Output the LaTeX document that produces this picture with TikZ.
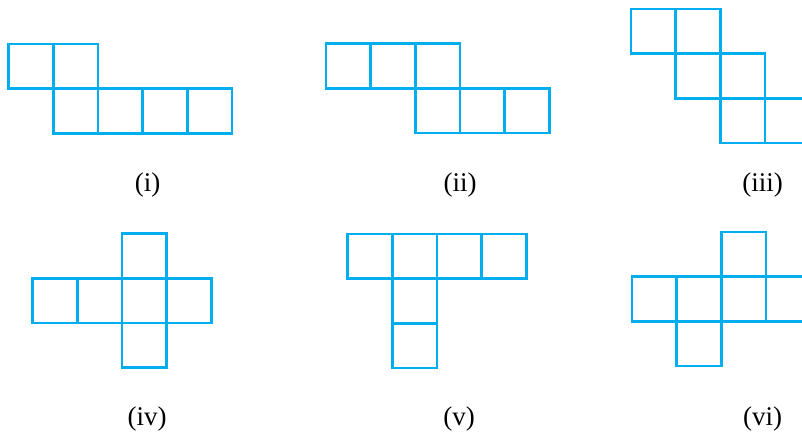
\documentclass[tikz,border=0pt]{standalone}
\usepackage{fontspec}
\setmainfont{Liberation Serif}
\definecolor{netblue}{RGB}{0,174,239}
\newcommand{\sq}[3]{\draw[netcell] ($(#1)+(#2*\s,#3*\s)$) rectangle ++(\s,\s);}
\usetikzlibrary{calc}
\begin{document}
\begin{tikzpicture}[x=1pt,y=-1pt,
  netcell/.style={draw=netblue,line width=2.7pt,line join=miter},
  lab/.style={font=\fontsize{27}{30}\selectfont,inner sep=0pt,anchor=center}]
\def\s{44.7}
\useasboundingbox (0,0) rectangle (802,435);
\fill[white] (0,0) rectangle (802,435);
% origins
\coordinate (o1) at (8.5,44);
\coordinate (o2) at (326,43.5);
\coordinate (o3) at (631,9);
\coordinate (o4) at (32.5,233.5);
\coordinate (o5) at (347.7,234);
\coordinate (o6) at (632,232);
% (i)
\sq{o1}{0}{0}\sq{o1}{1}{0}\sq{o1}{1}{1}\sq{o1}{2}{1}\sq{o1}{3}{1}\sq{o1}{4}{1}
% (ii)
\sq{o2}{0}{0}\sq{o2}{1}{0}\sq{o2}{2}{0}\sq{o2}{2}{1}\sq{o2}{3}{1}\sq{o2}{4}{1}
% (iii)
\sq{o3}{0}{0}\sq{o3}{1}{0}\sq{o3}{1}{1}\sq{o3}{2}{1}\sq{o3}{2}{2}\sq{o3}{3}{2}
% (iv)
\sq{o4}{2}{0}\sq{o4}{0}{1}\sq{o4}{1}{1}\sq{o4}{2}{1}\sq{o4}{3}{1}\sq{o4}{2}{2}
% (v)
\sq{o5}{0}{0}\sq{o5}{1}{0}\sq{o5}{2}{0}\sq{o5}{3}{0}\sq{o5}{1}{1}\sq{o5}{1}{2}
% (vi)
\sq{o6}{2}{0}\sq{o6}{0}{1}\sq{o6}{1}{1}\sq{o6}{2}{1}\sq{o6}{3}{1}\sq{o6}{1}{2}
% labels
\node[lab] (l1) at (147.5,185.3) {(i)};
\node[lab] (l2) at (460,185.3) {(ii)};
\node[lab] (l3) at (762.5,185.3) {(iii)};
\node[lab] (l4) at (147,419) {(iv)};
\node[lab] (l5) at (459,419) {(v)};
\node[lab] (l6) at (762.5,419) {(vi)};
\end{tikzpicture}
\end{document}
